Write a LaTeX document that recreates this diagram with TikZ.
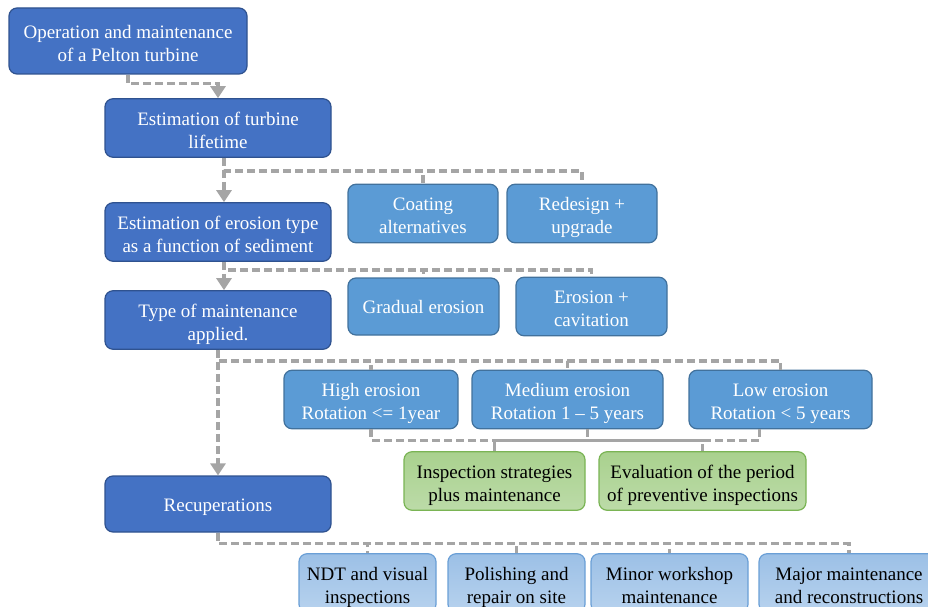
\documentclass[tikz,border=0pt]{standalone}
\usepackage{fontspec}
\setmainfont{Liberation Serif}
\usetikzlibrary{arrows.meta}
\definecolor{darkblue}{HTML}{4472C4}
\definecolor{darkedge}{HTML}{2F528F}
\definecolor{midblue}{HTML}{5B9BD5}
\definecolor{midedge}{HTML}{41719C}
\definecolor{paletop}{HTML}{9CC0E6}
\definecolor{palebot}{HTML}{B7D2EE}
\definecolor{paleedge}{HTML}{6A9FD6}
\definecolor{greentop}{HTML}{A9D18E}
\definecolor{greenbot}{HTML}{BCDBA8}
\definecolor{greenedge}{HTML}{7AB454}
\definecolor{linkgray}{HTML}{A5A5A5}
\tikzset{
  top strut/.store in=\boxtop, top strut=47.5pt,
  box/.style={rounded corners=8pt, align=center, inner sep=2pt, line width=1.2pt,
    font=\fontsize{19}{23}\selectfont,
    execute at begin node={\rule{0pt}{\boxtop}},
    execute at end node={\rule[-7pt]{0pt}{7pt}}},
  oneline/.style={top strut=21.5pt},
  darkbox/.style={box, draw=darkedge, fill=darkblue, text=white},
  midbox/.style={box, draw=midedge, fill=midblue, text=white},
  greenbox/.style={box, draw=greenedge, top color=greentop, bottom color=greenbot, text=black},
  palebox/.style={box, draw=paleedge, top color=paletop, bottom color=palebot, text=black},
  link/.style={draw=linkgray, line width=3.3pt, dash pattern=on 8pt off 4pt},
  linkarrow/.style={link, -{Triangle[width=15pt,length=12pt]}}
}

\begin{document}
\begin{tikzpicture}[x=1pt, y=-1pt]
	\useasboundingbox (0,0) rectangle (928,607);
	
	%%%%% main column %%%%%
	\node[darkbox, minimum width=238pt, minimum height=66pt] (op) at (128,41) {Operation and maintenance\\of a Pelton turbine};
	\node[darkbox, minimum width=226pt, minimum height=58pt] (life) at (218,128) {Estimation of turbine\\lifetime};
	\node[darkbox, minimum width=226pt, minimum height=56pt] (etype) at (218,232) {Estimation of erosion type\\as a function of sediment};
	\node[darkbox, minimum width=226pt, minimum height=56pt] (mtype) at (218,320) {Type of maintenance\\applied.};
	\node[darkbox, oneline, minimum width=226pt, minimum height=56pt] (recup) at (218,504) {Recuperations};
	
	%%%%% side branches %%%%%
	\node[midbox, minimum width=150pt, minimum height=57pt] (coat) at (423,213.5) {Coating\\alternatives};
	\node[midbox, minimum width=150pt, minimum height=57pt] (redes) at (582,213.5) {Redesign +\\upgrade};
	\node[midbox, oneline, minimum width=151pt, minimum height=57pt] (grad) at (423.5,306.5) {Gradual erosion};
	\node[midbox, minimum width=151pt, minimum height=57pt] (cavit) at (591.5,306.5) {Erosion +\\cavitation};
	
	\node[midbox, minimum width=174pt, minimum height=57pt] (high) at (371,399.5) {High erosion\\Rotation <= 1year};
	\node[midbox, minimum width=191pt, minimum height=57pt] (med) at (567.5,399.5) {Medium erosion\\Rotation 1 – 5 years};
	\node[midbox, minimum width=183pt, minimum height=57pt] (low) at (780.5,399.5) {Low erosion\\Rotation < 5 years};
	
	\node[greenbox, minimum width=181pt, minimum height=56pt] (insp) at (494.5,481) {Inspection strategies\\plus maintenance};
	\node[greenbox, minimum width=207pt, minimum height=56pt] (eval) at (702.5,481) {Evaluation of the period\\of preventive inspections};
	
	\node[palebox, minimum width=137pt, minimum height=56pt] (ndt) at (367.5,583) {NDT and visual\\inspections};
	\node[palebox, minimum width=137pt, minimum height=56pt] (pol) at (516.5,583) {Polishing and\\repair on site};
	\node[palebox, minimum width=157pt, minimum height=56pt] (minor) at (669.5,583) {Minor workshop\\maintenance};
	\node[palebox, minimum width=180pt, minimum height=56pt] (major) at (849,583) {Major maintenance\\and reconstructions};
	
	%%%%% connectors %%%%%
	\draw[linkarrow] (op.south) -- ++(0,9) -| (life.north);
	
	\draw[linkarrow] ([xshift=6pt]life.south) -- ([xshift=6pt]etype.north);
	\foreach \t in {coat,redes}
		\draw[link] ([xshift=6pt]life.south) -- ++(0,13) -| (\t.north);
	
	\draw[linkarrow] ([xshift=6pt]etype.south) -- ([xshift=6pt]mtype.north);
	\foreach \t in {grad,cavit}
		\draw[link] ([xshift=6pt]etype.south) -- ++(0,8) -| (\t.north);
	
	\draw[linkarrow] (mtype.south) -- (recup.north);
	\foreach \t in {high,med,low}
		\draw[link] (mtype.south) -- ++(0,11) -| (\t.north);
	
	\coordinate (highout) at (high.south);
	\coordinate (medout) at ([xshift=20pt]med.south);
	\coordinate (lowout) at ([xshift=-21pt]low.south);
	\foreach \s in {highout,medout,lowout}
		\foreach \t in {insp,eval}
			\draw[link] (\s) -- ++(0,11) -| (\t.north);
	
	\foreach \t in {ndt,pol,minor,major}
		\draw[link] (recup.south) -- ++(0,11) -| (\t.north);
	
\end{tikzpicture}
\end{document}
